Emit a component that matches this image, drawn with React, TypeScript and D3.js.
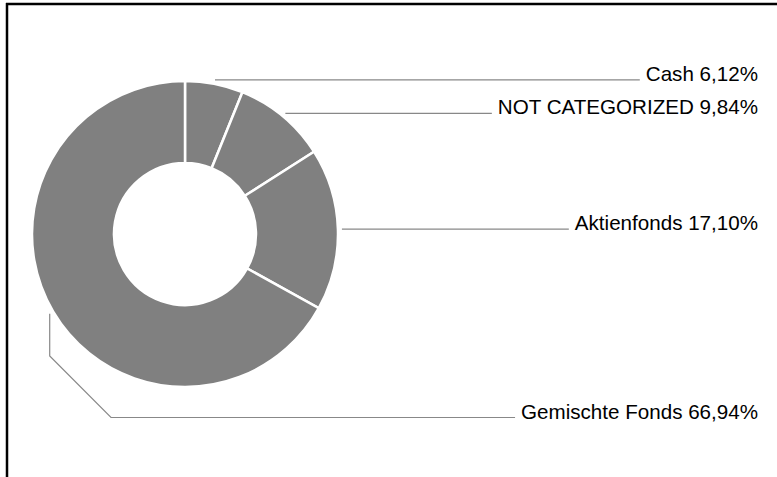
import React, { useEffect, useRef } from 'react';
import * as d3 from 'd3';

const categories = ['Cash', 'NOT CATEGORIZED', 'Aktienfonds', 'Gemischte Fonds'];
const shares = [6.12, 9.84, 17.1, 66.94];

export default function App() {
  const svgRef = useRef<SVGSVGElement>(null);

  useEffect(() => {
    if (!svgRef.current) return;
    const svg = d3.select(svgRef.current);
    svg.selectAll('*').remove();

    const width = 777;
    const height = 477;
    const cx = 185;
    const cy = 234;
    const outerR = 153;
    const innerR = 71;
    const lineR = 157;
    const textRight = 758;

    // frame: only top and left edges show
    svg.append('line')
      .attr('x1', 6).attr('y1', 4).attr('x2', width).attr('y2', 4)
      .attr('stroke', '#000').attr('stroke-width', 2.5);
    svg.append('line')
      .attr('x1', 7).attr('y1', 3).attr('x2', 7).attr('y2', height)
      .attr('stroke', '#000').attr('stroke-width', 2.5);

    const data = categories.map((c, i) => ({ label: c, value: shares[i] }));
    const pie = d3.pie<{ label: string; value: number }>()
      .value(d => d.value)
      .sort(null);
    const arcs = pie(data);
    const arc = d3.arc<d3.PieArcDatum<{ label: string; value: number }>>()
      .innerRadius(innerR)
      .outerRadius(outerR);

    const g = svg.append('g').attr('transform', `translate(${cx},${cy})`);
    g.selectAll('path')
      .data(arcs)
      .enter()
      .append('path')
      .attr('d', arc)
      .attr('fill', '#808080')
      .attr('stroke', '#fff')
      .attr('stroke-width', 2.5);

    const fmt = (v: number) => v.toFixed(2).replace('.', ',') + '%';

    arcs.forEach(a => {
      const mid = (a.startAngle + a.endAngle) / 2;
      const sx = cx + lineR * Math.sin(mid);
      const sy = cy - lineR * Math.cos(mid);
      const text = svg.append('text')
        .attr('text-anchor', 'end')
        .attr('font-family', 'Liberation Sans, Arial, Helvetica, sans-serif')
        .attr('font-size', '20.6px')
        .attr('fill', '#000')
        .text(`${a.data.label} ${fmt(a.data.value)}`);

      let pts: [number, number][];
      let ly: number;
      if (mid < Math.PI) {
        ly = sy;
        pts = [[sx, sy]];
      } else {
        // left side label routed down and under the donut
        ly = 417.5;
        pts = [[sx, sy], [sx, 356], [111, ly]];
      }
      text.attr('x', textRight).attr('y', ly + 1);
      const tw = (text.node() as SVGTextElement).getComputedTextLength();
      pts.push([textRight - tw - 6, ly]);

      svg.append('path')
        .attr('d', d3.line()(pts) as string)
        .attr('fill', 'none')
        .attr('stroke', '#888')
        .attr('stroke-width', 1.2);
    });
  }, []);

  return (
    <svg
      ref={svgRef}
      width={777}
      height={477}
      viewBox="0 0 777 477"
      style={{ position: 'fixed', left: 0, top: 0, display: 'block', background: '#fff' }}
    />
  );
}
